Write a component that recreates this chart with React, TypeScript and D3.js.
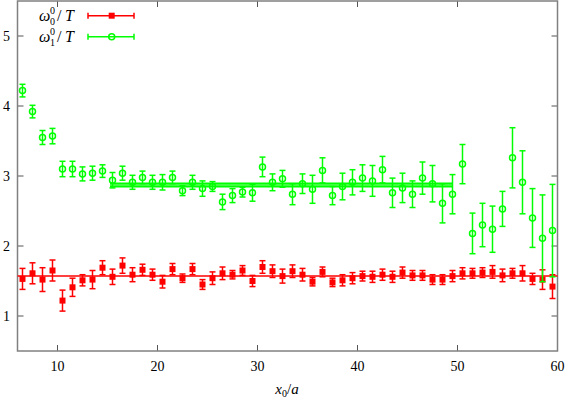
import React, { useEffect, useRef } from 'react';
import * as d3 from 'd3';

// x positions (x0/a) shared by both series
const xPos = [
  6.5, 7.5, 8.5, 9.5, 10.5, 11.5, 12.5, 13.5, 14.5, 15.5, 16.5, 17.5, 18.5, 19.5,
  20.5, 21.5, 22.5, 23.5, 24.5, 25.5, 26.5, 27.5, 28.5, 29.5, 30.5, 31.5, 32.5, 33.5,
  34.5, 35.5, 36.5, 37.5, 38.5, 39.5, 40.5, 41.5, 42.5, 43.5, 44.5, 45.5, 46.5, 47.5,
  48.5, 49.5, 50.5, 51.5, 52.5, 53.5, 54.5, 55.5, 56.5, 57.5, 58.5, 59.5,
];

// omega_0^0 / T
const w0 = [
  1.53, 1.61, 1.52, 1.65, 1.22, 1.41, 1.51, 1.52, 1.69, 1.56, 1.72, 1.59, 1.66, 1.59,
  1.49, 1.67, 1.54, 1.67, 1.45, 1.54, 1.61, 1.59, 1.65, 1.50, 1.70, 1.64, 1.57, 1.64,
  1.59, 1.49, 1.63, 1.48, 1.51, 1.54, 1.57, 1.56, 1.59, 1.56, 1.62, 1.58, 1.58, 1.52,
  1.52, 1.57, 1.61, 1.61, 1.62, 1.63, 1.58, 1.61, 1.61, 1.53, 1.52, 1.42,
];
const w0Err = [
  0.15, 0.15, 0.17, 0.15, 0.15, 0.13, 0.08, 0.13, 0.10, 0.11, 0.11, 0.10, 0.08, 0.08,
  0.09, 0.08, 0.06, 0.08, 0.07, 0.09, 0.09, 0.06, 0.07, 0.08, 0.09, 0.09, 0.10, 0.09,
  0.09, 0.06, 0.07, 0.06, 0.08, 0.08, 0.07, 0.08, 0.08, 0.08, 0.08, 0.07, 0.07, 0.07,
  0.07, 0.08, 0.08, 0.07, 0.07, 0.09, 0.09, 0.07, 0.11, 0.08, 0.14, 0.17,
];

// omega_1^0 / T
const w1 = [
  4.22, 3.92, 3.55, 3.57, 3.10, 3.10, 3.03, 3.04, 3.07, 2.94, 3.04, 2.91, 2.98, 2.91,
  2.91, 2.98, 2.79, 2.91, 2.82, 2.85, 2.63, 2.72, 2.77, 2.76, 3.13, 2.91, 2.96, 2.74,
  2.89, 2.81, 3.08, 2.72, 2.85, 2.91, 2.97, 2.93, 3.09, 2.76, 2.83, 2.74, 2.97, 2.89,
  2.61, 2.74, 3.17, 2.18, 2.30, 2.24, 2.53, 3.26, 2.91, 2.40, 2.11, 2.22,
];
const w1Err = [
  0.09, 0.09, 0.10, 0.11, 0.11, 0.11, 0.10, 0.10, 0.09, 0.11, 0.10, 0.10, 0.09, 0.10,
  0.11, 0.09, 0.07, 0.10, 0.11, 0.07, 0.11, 0.10, 0.07, 0.12, 0.14, 0.12, 0.12, 0.15,
  0.14, 0.20, 0.18, 0.13, 0.19, 0.18, 0.19, 0.22, 0.19, 0.21, 0.21, 0.19, 0.23, 0.26,
  0.28, 0.28, 0.28, 0.29, 0.31, 0.33, 0.25, 0.43, 0.45, 0.42, 0.62, 0.66,
];

// plateau fits: value, error, x range
const fit0 = { value: 1.57, err: 0.0, range: [6, 60] };
const fit1 = { value: 2.87, err: 0.025, range: [15.25, 49.5] };

const xTicks = [10, 20, 30, 40, 50, 60];
const yTicks = [1, 2, 3, 4, 5];

const RED = '#ff0000';
const GREEN = '#00ff00';
const AXIS = '#808080';
const FONT = 'Times New Roman, Liberation Serif, serif';

const Chart = () => {
  const ref = useRef<SVGSVGElement>(null);

  useEffect(() => {
    const width = 565;
    const height = 402;
    const plot = { left: 17.5, right: 557.5, top: 1, bottom: 351 };

    const svg = d3.select(ref.current).attr('width', width).attr('height', height)
      .attr('font-family', FONT);
    svg.selectAll('*').remove();

    const x = d3.scaleLinear().domain([6, 60]).range([plot.left, plot.right]);
    const y = d3.scaleLinear().domain([0.5, 5.5]).range([plot.bottom, plot.top]);

    // tick marks (mirrored, pointing inward)
    const ticks = svg.append('g').attr('stroke', '#555').attr('stroke-width', 1);
    xTicks.forEach(t => {
      ticks.append('line').attr('x1', x(t)).attr('x2', x(t)).attr('y1', plot.bottom).attr('y2', plot.bottom - 6);
      ticks.append('line').attr('x1', x(t)).attr('x2', x(t)).attr('y1', plot.top).attr('y2', plot.top + 6);
    });
    yTicks.forEach(t => {
      ticks.append('line').attr('x1', plot.left).attr('x2', plot.left + 6).attr('y1', y(t)).attr('y2', y(t));
      ticks.append('line').attr('x1', plot.right).attr('x2', plot.right - 6).attr('y1', y(t)).attr('y2', y(t));
    });

    // frame
    svg.append('rect')
      .attr('x', plot.left).attr('y', plot.top)
      .attr('width', plot.right - plot.left).attr('height', plot.bottom - plot.top)
      .attr('fill', 'none').attr('stroke', AXIS).attr('stroke-width', 1.5);

    // tick labels
    svg.append('g').selectAll('text').data(xTicks).enter().append('text')
      .attr('x', d => x(d)).attr('y', 371)
      .attr('text-anchor', 'middle')
      .attr('font-size', 14)
      .text(d => d);
    svg.append('g').selectAll('text').data(yTicks).enter().append('text')
      .attr('x', 10).attr('y', d => y(d) + 5)
      .attr('text-anchor', 'end')
      .attr('font-size', 14)
      .text(d => d);

    // x axis label x_0/a
    const xl = svg.append('text').attr('x', 287).attr('y', 394).attr('text-anchor', 'middle')
      .attr('font-size', 15);
    xl.append('tspan').attr('font-style', 'italic').text('x');
    xl.append('tspan').attr('dy', 3).attr('font-size', 10).text('0');
    xl.append('tspan').attr('dy', -3).text('/');
    xl.append('tspan').attr('font-style', 'italic').text('a');

    const drawFit = (fit: { value: number; err: number; range: number[] }, color: string) => {
      const g = svg.append('g').attr('stroke', color).attr('stroke-width', 1.5);
      const vals = fit.err > 0 ? [fit.value - fit.err, fit.value, fit.value + fit.err] : [fit.value];
      vals.forEach(v => {
        g.append('line')
          .attr('x1', x(fit.range[0])).attr('x2', x(fit.range[1]))
          .attr('y1', y(v)).attr('y2', y(v));
      });
    };

    const drawErrors = (vals: number[], errs: number[], color: string) => {
      const g = svg.append('g').attr('stroke', color).attr('stroke-width', 1.5).attr('fill', 'none');
      vals.forEach((v, i) => {
        const cx = x(xPos[i]);
        const lo = y(v - errs[i]);
        const hi = y(v + errs[i]);
        g.append('line').attr('x1', cx).attr('x2', cx).attr('y1', lo).attr('y2', hi);
        g.append('line').attr('x1', cx - 3).attr('x2', cx + 3).attr('y1', lo).attr('y2', lo);
        g.append('line').attr('x1', cx - 3).attr('x2', cx + 3).attr('y1', hi).attr('y2', hi);
      });
    };

    // red series: filled squares
    drawFit(fit0, RED);
    drawErrors(w0, w0Err, RED);
    svg.append('g').selectAll('rect').data(w0).enter().append('rect')
      .attr('x', (d, i) => x(xPos[i]) - 3).attr('y', d => y(d) - 3)
      .attr('width', 6).attr('height', 6).attr('fill', RED);

    // green series: open circles
    drawFit(fit1, GREEN);
    drawErrors(w1, w1Err, GREEN);
    svg.append('g').selectAll('circle').data(w1).enter().append('circle')
      .attr('cx', (d, i) => x(xPos[i])).attr('cy', d => y(d))
      .attr('r', 3).attr('fill', 'none').attr('stroke', GREEN).attr('stroke-width', 1.5);

    // legend
    const legend = [
      { sub: '0', color: RED, y: 15.7, marker: 'square' },
      { sub: '1', color: GREEN, y: 36.7, marker: 'circle' },
    ];
    legend.forEach(l => {
      const base = l.y + 5;
      const t = (tx: number, ty: number, s: string, size: number, italic: boolean) =>
        svg.append('text').attr('x', tx).attr('y', ty)
          .attr('font-size', size)
          .attr('font-style', italic ? 'italic' : 'normal').text(s);
      t(39, base, 'ω', 16, true);
      t(50, base - 7, '0', 10, false);
      t(50, base + 4, l.sub, 10, false);
      t(57, base, '/', 16, false);
      t(65, base, 'T', 16, true);

      const g = svg.append('g').attr('stroke', l.color).attr('stroke-width', 1.5).attr('fill', 'none');
      g.append('line').attr('x1', 88).attr('x2', 134).attr('y1', l.y).attr('y2', l.y);
      g.append('line').attr('x1', 88).attr('x2', 88).attr('y1', l.y - 3).attr('y2', l.y + 3);
      g.append('line').attr('x1', 134).attr('x2', 134).attr('y1', l.y - 3).attr('y2', l.y + 3);
      if (l.marker === 'square') {
        svg.append('rect').attr('x', 111.7 - 3).attr('y', l.y - 3).attr('width', 6).attr('height', 6).attr('fill', l.color);
      } else {
        g.append('circle').attr('cx', 111.7).attr('cy', l.y).attr('r', 3);
      }
    });
  }, []);

  return <svg ref={ref} style={{ position: 'absolute', left: 0, top: 0, background: '#fff' }} />;
};

export default function App() {
  return <Chart />;
}
